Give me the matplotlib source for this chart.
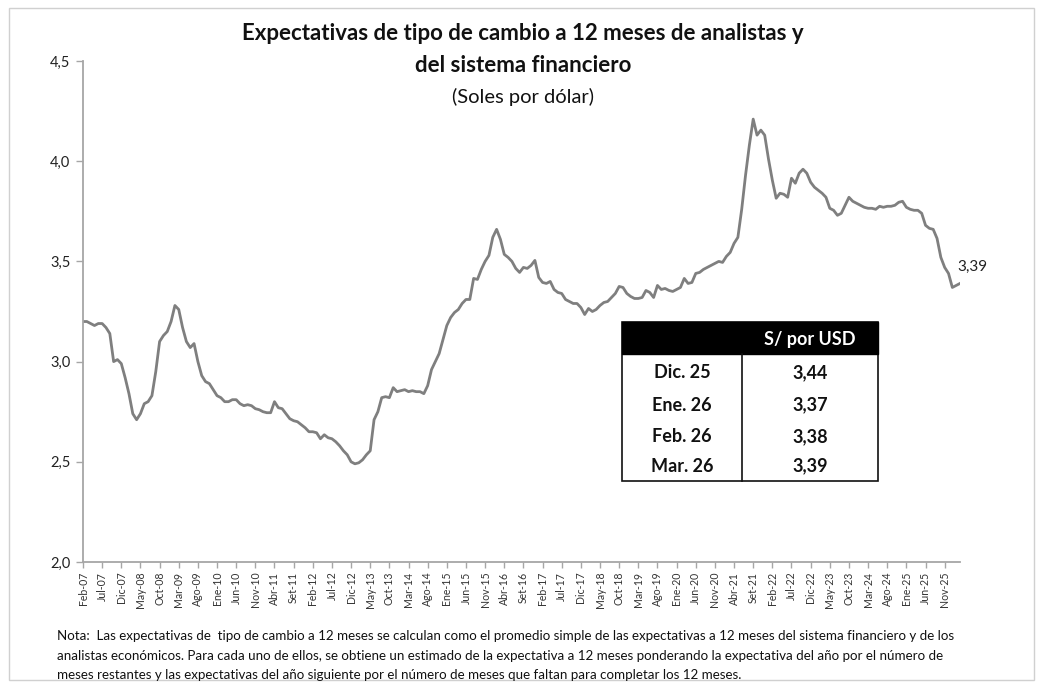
import matplotlib
matplotlib.use("Agg")
import matplotlib.pyplot as plt
from matplotlib.patches import Rectangle
from matplotlib import font_manager

names = {f.name for f in font_manager.fontManager.ttflist}
FAM = [n for n in ["Liberation Sans Narrow", "Lato", "DejaVu Sans"] if n in names] + ["DejaVu Sans"]
plt.rcParams['font.family'] = FAM

# ---------------- data ----------------
values = [
    3.20, 3.20, 3.19, 3.18, 3.19, 3.19, 3.17, 3.14, 3.00, 3.01,   # Feb-07 .. Nov-07
    2.99, 2.92, 2.84, 2.74, 2.71, 2.74, 2.79, 2.80, 2.83, 2.95,   # Dic-07 .. Sep-08
    3.10, 3.13, 3.15, 3.20, 3.28, 3.26, 3.17, 3.10, 3.07, 3.09,   # Oct-08 .. Jul-09
    3.00, 2.93, 2.90, 2.89, 2.86, 2.83, 2.82, 2.80, 2.80, 2.81,   # Ago-09 .. May-10
    2.81, 2.79, 2.78, 2.785, 2.78, 2.765, 2.76, 2.75, 2.745, 2.745,  # Jun-10 .. Mar-11
    2.80, 2.77, 2.765, 2.74, 2.715, 2.705, 2.70, 2.685, 2.67, 2.65,  # Abr-11 .. Ene-12
    2.65, 2.645, 2.615, 2.635, 2.62, 2.615, 2.60, 2.58, 2.555, 2.535,  # Feb-12 .. Nov-12
    2.50, 2.49, 2.495, 2.51, 2.535, 2.555, 2.71, 2.75, 2.82, 2.825,  # Dic-12 .. Sep-13
    2.82, 2.87, 2.85, 2.855, 2.86, 2.85, 2.855, 2.85, 2.85, 2.84,   # Oct-13 .. Jul-14
    2.88, 2.96, 3.00, 3.04, 3.11, 3.18, 3.22, 3.245, 3.26, 3.29,   # Ago-14 .. May-15
    3.31, 3.31, 3.415, 3.41, 3.46, 3.50, 3.53, 3.62, 3.66, 3.61,   # Jun-15 .. Mar-16
    3.535, 3.52, 3.50, 3.465, 3.445, 3.47, 3.465, 3.48, 3.505, 3.42,  # Abr-16 .. Ene-17
    3.395, 3.39, 3.40, 3.36, 3.345, 3.34, 3.31, 3.30, 3.29, 3.29,   # Feb-17 .. Nov-17
    3.27, 3.235, 3.265, 3.25, 3.26, 3.28, 3.295, 3.30, 3.32, 3.34,  # Dic-17 .. Sep-18
    3.375, 3.37, 3.34, 3.325, 3.315, 3.315, 3.32, 3.355, 3.345, 3.32,  # Oct-18 .. Jul-19
    3.38, 3.36, 3.365, 3.355, 3.35, 3.36, 3.37, 3.415, 3.39, 3.395,  # Ago-19 .. May-20
    3.44, 3.445, 3.46, 3.47, 3.48, 3.49, 3.50, 3.495, 3.525, 3.545,  # Jun-20 .. Mar-21
    3.59, 3.62, 3.76, 3.93, 4.08, 4.21, 4.13, 4.155, 4.13, 4.01,   # Abr-21 .. Ene-22
    3.905, 3.815, 3.84, 3.835, 3.82, 3.915, 3.89, 3.94, 3.96, 3.94,  # Feb-22 .. Nov-22
    3.895, 3.87, 3.855, 3.84, 3.82, 3.765, 3.755, 3.73, 3.74, 3.78,  # Dic-22 .. Sep-23
    3.82, 3.80, 3.79, 3.78, 3.77, 3.765, 3.765, 3.76, 3.775, 3.77,  # Oct-23 .. Jul-24
    3.775, 3.775, 3.78, 3.795, 3.80, 3.77, 3.76, 3.755, 3.755, 3.74,  # Ago-24 .. May-25
    3.68, 3.665, 3.66, 3.615, 3.52, 3.47, 3.44, 3.37, 3.38, 3.39,   # Jun-25 .. Mar-26
]

tick_labels = ["Feb-07", "Jul-07", "Dic-07", "May-08", "Oct-08", "Mar-09", "Ago-09",
               "Ene-10", "Jun-10", "Nov-10", "Abr-11", "Set-11", "Feb-12", "Jul-12",
               "Dic-12", "May-13", "Oct-13", "Mar-14", "Ago-14", "Ene-15", "Jun-15",
               "Nov-15", "Abr-16", "Set-16", "Feb-17", "Jul-17", "Dic-17", "May-18",
               "Oct-18", "Mar-19", "Ago-19", "Ene-20", "Jun-20", "Nov-20", "Abr-21",
               "Set-21", "Feb-22", "Jul-22", "Dic-22", "May-23", "Oct-23", "Mar-24",
               "Ago-24", "Ene-25", "Jun-25", "Nov-25"]
tick_step = 5

y_ticks = [2.0, 2.5, 3.0, 3.5, 4.0, 4.5]
y_tick_labels = ["2,0", "2,5", "3,0", "3,5", "4,0", "4,5"]

table_header = "S/ por USD"
table_rows = ["Dic. 25", "Ene. 26", "Feb. 26", "Mar. 26"]
table_vals = ["3,44", "3,37", "3,38", "3,39"]
end_label = "3,39"

title_lines = ["Expectativas de tipo de cambio a 12 meses de analistas y",
               "del sistema financiero"]
subtitle = "(Soles por dólar)"
note_lines = [
    "Nota:  Las expectativas de  tipo de cambio a 12 meses se calculan como el promedio simple de las expectativas a 12 meses del sistema financiero y de los",
    "analistas económicos. Para cada uno de ellos, se obtiene un estimado de la expectativa a 12 meses ponderando la expectativa del año por el número de",
    "meses restantes y las expectativas del año siguiente por el número de meses que faltan para completar los 12 meses.",
]

# ---------------- figure ----------------
W, H = 1043, 686
fig = plt.figure(figsize=(W / 100, H / 100), dpi=100)
fig.patch.set_facecolor("white")

def fx(px):
    return px / W

def fy(py):
    return 1 - py / H

# outer light frame
fig.add_artist(Rectangle((fx(9), fy(680)), fx(1034) - fx(9), fy(8) - fy(680),
                         transform=fig.transFigure, fill=False,
                         edgecolor="#d0d0d0", lw=1.0))

ax = fig.add_axes([fx(83), fy(562), fx(960) - fx(83), fy(61) - fy(562)])
x = list(range(len(values)))
ax.plot(x, values, color="#7f7f7f", lw=2.0, solid_joinstyle="round")

ax.set_xlim(0, len(values) - 1)
ax.set_ylim(2.0, 4.5)
ax.set_yticks(y_ticks)
ax.set_yticklabels(y_tick_labels, fontsize=10.5, color="#222222")
ax.set_xticks(list(range(0, tick_step * len(tick_labels), tick_step)))
ax.set_xticklabels(tick_labels, rotation=90, fontsize=7.6, color="#333333")
for s in ["top", "right"]:
    ax.spines[s].set_visible(False)
for s in ["left", "bottom"]:
    ax.spines[s].set_color("#a6a6a6")
    ax.spines[s].set_linewidth(1.3)
ax.tick_params(axis="y", length=5, width=1.0, color="#a6a6a6", pad=4)
ax.tick_params(axis="x", length=4, width=1.0, color="#a6a6a6", pad=3)
ax.set_facecolor("none")

ax.annotate(end_label, xy=(x[-1], values[-1]), xytext=(-2, 12),
            textcoords="offset points", fontsize=11, color="#222222", ha="left", va="center")

# title
fig.text(fx(523), fy(33), title_lines[0], ha="center", va="center",
         fontsize=16, fontweight="bold", color="#111111")
fig.text(fx(523), fy(66), title_lines[1], ha="center", va="center",
         fontsize=16, fontweight="bold", color="#111111")
fig.text(fx(523), fy(97), subtitle, ha="center", va="center",
         fontsize=14.5, color="#111111")

# table
tx0, tx1, tdiv = 622, 878, 742
ty0, thead, ty1 = 322, 354, 481
fig.add_artist(Rectangle((fx(tx0), fy(ty1)), fx(tx1) - fx(tx0), fy(ty0) - fy(ty1),
                         transform=fig.transFigure, facecolor="white",
                         edgecolor="#111111", lw=1.2, zorder=5))
fig.add_artist(Rectangle((fx(tx0), fy(thead)), fx(tx1) - fx(tx0), fy(ty0) - fy(thead),
                         transform=fig.transFigure, facecolor="black",
                         edgecolor="black", lw=1.0, zorder=6))
fig.add_artist(plt.Line2D([fx(tdiv), fx(tdiv)], [fy(thead), fy(ty1)],
                          transform=fig.transFigure, color="#111111", lw=1.2, zorder=6))
fig.text(fx((tdiv + tx1) / 2), fy(339), table_header, ha="center", va="center",
         fontsize=13, fontweight="bold", color="white", zorder=7)
row_y = [373, 405, 437, 466]
for ry, lab, val in zip(row_y, table_rows, table_vals):
    fig.text(fx((tx0 + tdiv) / 2), fy(ry), lab, ha="center", va="center",
             fontsize=13, fontweight="bold", color="#111111", zorder=7)
    fig.text(fx((tdiv + tx1) / 2), fy(ry), val, ha="center", va="center",
             fontsize=13, fontweight="bold", color="#111111", zorder=7)

# note
for i, (ln, ny) in enumerate(zip(note_lines, [636, 656, 675])):
    fig.text(fx(57), fy(ny), ln, ha="left", va="center", fontsize=9.6, color="#111111")

fig.savefig("out.png", dpi=100, facecolor="white")
